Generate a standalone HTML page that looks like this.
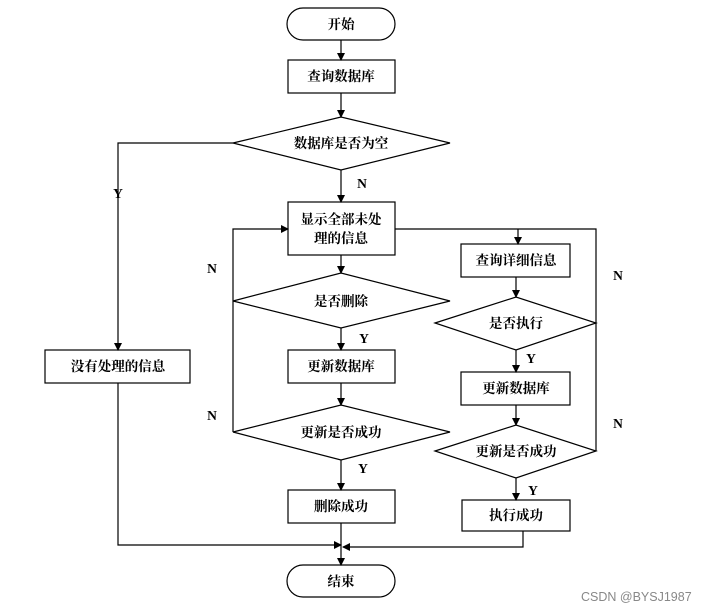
<!DOCTYPE html>
<html><head><meta charset="utf-8"><style>
html,body{margin:0;padding:0;background:#fff;}
svg text{font-family:"Liberation Serif","Noto Serif CJK SC",serif;font-weight:bold;font-size:13.5px;fill:#000;}
</style></head><body>
<svg width="711" height="611" viewBox="0 0 711 611" xmlns="http://www.w3.org/2000/svg">
<defs><marker id="a" markerWidth="8" markerHeight="8" refX="7" refY="4" orient="auto" markerUnits="userSpaceOnUse"><path d="M0,0 L8,4 L0,8z" fill="#000"/></marker></defs>
<g fill="none" stroke="#000" stroke-width="1.2">
<rect x="287" y="8" width="108" height="32" rx="16"/>
<rect x="288" y="60" width="107" height="33"/>
<polygon points="233,143 341,117 450,143 341,170"/>
<rect x="288" y="202" width="107" height="53"/>
<polygon points="233,301 341,273 450,301 341,328"/>
<rect x="288" y="350" width="107" height="33"/>
<polygon points="233,432 341,405 450,432 341,460"/>
<rect x="288" y="490" width="107" height="33"/>
<rect x="287" y="565" width="108" height="32" rx="16"/>
<rect x="45" y="350" width="145" height="33"/>
<rect x="461" y="244" width="109" height="33"/>
<polygon points="435,323 516,297 596,323 516,350"/>
<rect x="461" y="372" width="109" height="33"/>
<polygon points="435,451 516,425 596,451 516,478"/>
<rect x="462" y="500" width="108" height="31"/>
<path d="M341,40V60" marker-end="url(#a)"/>
<path d="M341,93V117" marker-end="url(#a)"/>
<path d="M341,170V202" marker-end="url(#a)"/>
<path d="M341,255V273" marker-end="url(#a)"/>
<path d="M341,328V350" marker-end="url(#a)"/>
<path d="M341,383V405" marker-end="url(#a)"/>
<path d="M341,460V490" marker-end="url(#a)"/>
<path d="M341,523V565" marker-end="url(#a)"/>
<path d="M233,143H118V350" marker-end="url(#a)"/>
<path d="M233,432V229H288" marker-end="url(#a)"/>
<path d="M395,229H596V451"/>
<path d="M518,229V244" marker-end="url(#a)"/>
<path d="M516,277V297" marker-end="url(#a)"/>
<path d="M516,350V372" marker-end="url(#a)"/>
<path d="M516,405V425" marker-end="url(#a)"/>
<path d="M516,478V500" marker-end="url(#a)"/>
<path d="M118,383V545H341" marker-end="url(#a)"/>
<path d="M523,531V547H343" marker-end="url(#a)"/>
</g>
<g text-anchor="middle">
<text x="341" y="29">开始</text>
<text x="341" y="81">查询数据库</text>
<text x="341" y="148">数据库是否为空</text>
<text x="341" y="224">显示全部未处</text>
<text x="341" y="243">理的信息</text>
<text x="341" y="306">是否删除</text>
<text x="341" y="371">更新数据库</text>
<text x="341" y="437">更新是否成功</text>
<text x="341" y="511">删除成功</text>
<text x="341" y="586">结束</text>
<text x="118" y="371">没有处理的信息</text>
<text x="516" y="265">查询详细信息</text>
<text x="516" y="328">是否执行</text>
<text x="516" y="393">更新数据库</text>
<text x="516" y="456">更新是否成功</text>
<text x="516" y="520">执行成功</text>
<text x="118" y="198">Y</text>
<text x="362" y="188">N</text>
<text x="212" y="273">N</text>
<text x="364" y="343">Y</text>
<text x="212" y="420">N</text>
<text x="363" y="473">Y</text>
<text x="531" y="363">Y</text>
<text x="533" y="495">Y</text>
<text x="618" y="280">N</text>
<text x="618" y="428">N</text>
</g>
<text x="581" y="601" style="font-family:'Liberation Sans',sans-serif;font-weight:normal;font-size:12.5px;fill:#888">CSDN @BYSJ1987</text>
</svg>
</body></html>
